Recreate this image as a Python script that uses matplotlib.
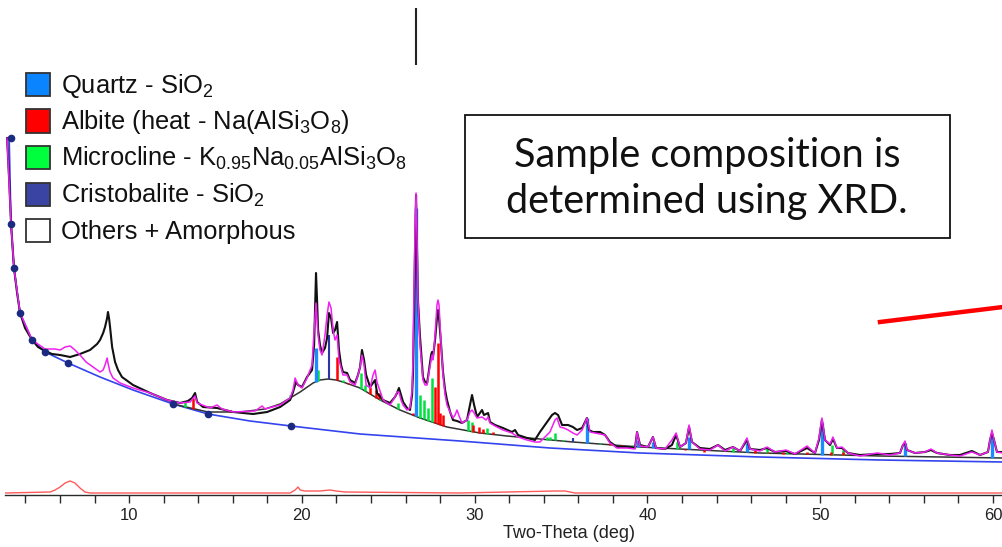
import numpy as np
import matplotlib
matplotlib.use("Agg")
import matplotlib.pyplot as plt
from matplotlib.patches import Rectangle
from matplotlib.lines import Line2D

plt.rcParams["font.family"] = ["Liberation Sans", "DejaVu Sans"]
plt.rcParams["mathtext.fontset"] = "custom"
plt.rcParams["mathtext.rm"] = "Liberation Sans"
plt.rcParams["mathtext.it"] = "Liberation Sans"
plt.rcParams["mathtext.bf"] = "Liberation Sans:bold"
plt.rcParams["mathtext.default"] = "regular"

# ---------------- data ----------------
# observed pattern (black)
obs_2theta = [2.94, 3.06, 3.17, 3.34, 3.52, 3.69, 3.98, 4.39, 4.73, 5.14, 5.54, 6.01, 6.59, 7.16, 7.74,
              8.15, 8.32, 8.50, 8.61, 8.73, 8.78, 8.84, 8.90, 9.02, 9.19, 9.36, 9.59, 10.23, 11.22, 12.20,
              12.95, 13.41, 13.65, 13.82, 13.94, 14.28, 15.09, 16.02, 17.18, 17.99, 18.74, 19.32, 19.49,
              19.66, 19.78, 20.01, 20.30, 20.59, 20.71, 20.82, 20.88, 20.94, 21.05, 21.17, 21.34, 21.46,
              21.57, 21.69, 21.81, 21.92, 22.04, 22.15, 22.27, 22.38, 22.62, 22.79, 23.08, 23.25, 23.37,
              23.48, 23.60, 23.72, 23.95, 24.12, 24.24, 24.35, 24.70, 25.10, 25.39, 25.51, 25.62, 25.74,
              25.86, 26.09, 26.26, 26.38, 26.43, 26.49, 26.55, 26.61, 26.67, 26.72, 26.84, 27.01, 27.13,
              27.25, 27.36, 27.48, 27.53, 27.59, 27.71, 27.82, 27.88, 27.94, 28.06, 28.17, 28.29, 28.40,
              28.58, 28.75, 28.98, 29.27, 29.56, 29.73, 29.85, 29.97, 30.14, 30.31, 30.43, 30.54, 30.78,
              30.89, 31.18, 31.64, 32.16, 32.34, 32.51, 33.03, 33.49, 33.78, 34.19, 34.48, 34.65, 34.83,
              35.06, 35.41, 35.69, 35.93, 36.22, 36.50, 36.62, 36.85, 37.26, 37.55, 37.83, 38.24, 38.82,
              39.28, 39.40, 39.57, 40.03, 40.32, 40.50, 41.02, 41.42, 41.66, 41.89, 42.23, 42.41, 42.58,
              43.04, 43.62, 44.09, 44.49, 44.95, 45.36, 45.76, 45.94, 46.52, 46.92, 47.38, 48.02, 48.54,
              49.24, 49.70, 49.93, 50.10, 50.28, 50.57, 50.74, 50.97, 51.26, 51.61, 52.30, 53.29, 54.04,
              54.62, 54.79, 54.91, 55.02, 55.49, 56.06, 56.41, 56.76, 57.51, 58.09, 58.78, 59.25, 59.71,
              59.83, 59.94, 60.06, 60.23, 60.58]
obs_counts = [357, 315, 271, 227, 202, 182, 167, 155, 148, 144, 141, 140, 138, 141, 145,
              151, 155, 162, 168, 177, 183, 177, 168, 148, 133, 125, 118, 110, 102, 95,
              92, 94, 97, 102, 93, 88, 87, 83, 81, 83, 88, 95, 103,
              113, 110, 108, 118, 125, 150, 222, 195, 165, 150, 142, 147, 157,
              182, 177, 162, 165, 173, 145, 130, 123, 122, 115, 112, 120, 128,
              145, 135, 120, 108, 112, 115, 102, 95, 92, 98, 102, 107, 100,
              93, 87, 85, 100, 120, 175, 245, 300, 245, 195, 158, 118, 113,
              112, 125, 140, 143, 138, 155, 177, 185, 177, 150, 123, 105, 95,
              83, 75, 74, 72, 75, 90, 100, 90, 78, 82, 85, 80, 82,
              73, 70, 67, 63, 65, 60, 57, 55, 63, 73, 80, 82, 80,
              70, 70, 68, 65, 67, 77, 65, 63, 63, 60, 53, 48, 48,
              47, 63, 50, 48, 58, 47, 46, 50, 60, 48, 52, 68, 53,
              47, 46, 50, 45, 48, 44, 55, 46, 45, 47, 43, 44, 41,
              47, 42, 55, 75, 55, 50, 56, 47, 47, 42, 40, 41, 41,
              42, 50, 52, 45, 42, 43, 45, 42, 40, 40, 44, 40, 43,
              55, 62, 55, 43, 43]
# clipped top of the strongest observed reflection
clip_peak_2theta = 26.61
clip_peak_range = (430, 487)

# calculated pattern (magenta)
calc_2theta = [2.94, 3.17, 3.34, 3.69, 4.39, 5.14, 5.72, 6.01, 6.30, 6.59, 6.87, 7.16, 7.51, 7.92, 8.32,
               8.50, 8.61, 8.73, 8.78, 8.90, 9.07, 9.48, 10.23, 11.22, 12.20, 12.95, 13.53, 13.82, 13.94,
               14.69, 15.09, 15.38, 16.02, 17.29, 17.70, 17.87, 18.74, 19.32, 19.49, 19.61, 19.78, 20.01,
               20.30, 20.59, 20.71, 20.82, 20.94, 21.05, 21.17, 21.34, 21.46, 21.57, 21.69, 21.81, 21.92,
               22.04, 22.15, 22.38, 22.62, 22.79, 23.08, 23.25, 23.37, 23.48, 23.60, 23.72, 23.95, 24.12,
               24.24, 24.35, 24.70, 25.10, 25.39, 25.51, 25.62, 25.74, 25.86, 26.09, 26.26, 26.38, 26.43,
               26.49, 26.55, 26.61, 26.67, 26.72, 26.84, 27.01, 27.13, 27.25, 27.36, 27.48, 27.53, 27.59,
               27.71, 27.82, 27.88, 27.94, 28.06, 28.17, 28.29, 28.40, 28.58, 28.75, 28.87, 28.98, 29.10,
               29.27, 29.56, 29.73, 29.85, 29.97, 30.14, 30.43, 30.66, 30.78, 30.89, 31.18, 31.64, 32.16,
               32.51, 33.03, 33.49, 33.78, 34.07, 34.36, 34.65, 34.77, 34.94, 35.17, 35.41, 35.69, 35.93,
               36.22, 36.50, 36.68, 37.26, 37.55, 37.83, 38.24, 38.82, 39.28, 39.40, 39.57, 40.03, 40.32,
               40.50, 41.02, 41.42, 41.66, 41.89, 42.23, 42.41, 42.58, 43.04, 43.62, 44.09, 44.49, 44.95,
               45.36, 45.76, 45.94, 46.52, 46.92, 47.38, 48.02, 48.54, 49.24, 49.70, 49.93, 50.10, 50.28,
               50.57, 50.74, 50.97, 51.26, 51.61, 52.30, 53.29, 54.04, 54.62, 54.79, 54.91, 55.02, 55.49,
               56.06, 56.41, 56.76, 57.51, 58.09, 58.78, 59.25, 59.71, 59.83, 59.94, 60.06, 60.23, 60.58]
calc_counts = [357, 271, 227, 182, 155, 146, 146, 145, 148, 149, 145, 140, 133, 128, 123,
               125, 130, 137, 132, 123, 117, 112, 107, 102, 95, 92, 93, 99, 92,
               87, 90, 86, 83, 84, 89, 86, 90, 97, 105, 117, 110, 107,
               117, 130, 165, 192, 160, 145, 140, 160, 180, 193, 187, 165, 155,
               160, 135, 120, 120, 113, 110, 120, 128, 140, 130, 110, 107, 120,
               125, 113, 95, 90, 98, 103, 103, 95, 90, 85, 87, 105, 135,
               205, 265, 302, 255, 195, 150, 115, 110, 110, 123, 135, 140, 135,
               160, 190, 195, 190, 150, 120, 100, 90, 83, 77, 80, 85, 79,
               72, 75, 83, 85, 82, 77, 78, 75, 78, 72, 69, 65, 62,
               58, 55, 53, 53, 58, 63, 75, 77, 68, 67, 65, 62, 60,
               65, 77, 63, 61, 60, 52, 47, 47, 46, 63, 49, 48, 58,
               47, 46, 55, 62, 48, 52, 70, 53, 46, 45, 50, 44, 48,
               44, 57, 46, 44, 48, 43, 45, 41, 49, 42, 57, 77, 55,
               51, 58, 47, 48, 42, 39, 42, 40, 42, 50, 54, 45, 42,
               43, 46, 42, 40, 39, 43, 40, 43, 55, 65, 55, 43, 42]

# fitted background (blue) and its anchor points
bg_2theta = [3.06, 3.17, 3.34, 3.69, 4.39, 5.14, 6.47, 8.32, 10.23, 12.55, 14.57, 17.00, 19.37,
             23.37, 29.15, 34.36, 39.57, 46.52, 53.46, 60.58]
bg_counts = [357, 271, 227, 182, 155, 143, 132, 118, 105, 91, 81, 74, 69,
             61, 54, 47, 42, 38, 35, 33]
anchor_2theta = [3.17, 3.17, 3.34, 3.69, 4.39, 5.14, 6.47, 12.55, 14.57, 19.37]
anchor_counts = [357, 271, 227, 182, 155, 143, 132, 91, 81, 69]

# background + amorphous hump (grey-black smooth line)
hump_2theta = [12.55, 14.57, 16.42, 17.87, 18.74, 19.32, 19.90, 20.65, 21.05, 21.52, 21.98, 22.38,
               23.37, 24.53, 25.68, 26.84, 28.40, 30.31, 31.87, 35.69, 39.57, 46.52, 53.46, 60.58]
hump_counts = [91, 83, 83, 86, 91, 97, 103, 112, 115, 116, 115, 113,
               107, 95, 85, 77, 68, 62, 59, 53, 48, 42, 39, 37]

# reference stick patterns: position (deg) and top intensity
quartz_pos = [20.82, 26.61, 36.50, 39.46, 40.32, 42.41, 45.76, 50.10, 54.91, 59.94]
quartz_top = [147, 287, 77, 55, 53, 58, 52, 72, 52, 58]
albite_pos = [13.70, 15.84, 22.04, 22.67, 23.95, 24.29, 24.47, 25.39, 26.43, 27.71, 27.88, 28.00,
              28.17, 29.91, 30.25, 30.49, 31.06, 36.62, 37.83, 38.53, 42.18, 43.28, 45.53, 46.23,
              46.98, 47.85, 49.24, 50.62, 51.32]
albite_top = [97, 85, 138, 112, 108, 105, 102, 88, 82, 108, 152, 82,
              80, 70, 68, 66, 63, 52, 52, 50, 45, 43, 43, 45,
              43, 43, 43, 43, 43]
microcline_pos = [13.24, 19.32, 20.94, 22.38, 23.43, 23.66, 24.53, 25.57, 26.61, 26.84, 27.07, 27.30,
                  27.53, 29.62, 29.85, 30.72, 32.45, 34.19, 34.36, 34.65, 35.12, 37.26, 39.17, 41.71,
                  44.95, 46.92, 48.08, 50.68, 51.32]
microcline_top = [93, 100, 125, 115, 122, 110, 102, 92, 102, 100, 95, 87,
                  117, 75, 73, 67, 60, 58, 58, 62, 55, 52, 50, 53,
                  47, 47, 43, 50, 45]
cristobalite_pos = [21.57, 35.69]
cristobalite_top = [160, 57]

# difference curve (red, bottom)
diff_2theta = [2.82, 5.43, 5.72, 6.01, 6.30, 6.59, 6.87, 7.16, 7.45, 7.74, 19.32, 19.61, 19.78, 19.90,
               20.18, 21.05, 21.63, 21.98, 22.50, 29.15, 34.65, 35.23, 35.81, 60.58]
diff_counts = [2, 3, 5, 8, 12, 14, 12, 7, 3, 2, 2, 5, 8, 5,
               4, 4, 5, 4, 3, 2, 4, 4, 2, 2]

legend_labels = ["Quartz - SiO$_2$",
                 "Albite (heat - Na(AlSi$_3$O$_8$)",
                 "Microcline - K$_{0.95}$Na$_{0.05}$AlSi$_3$O$_8$",
                 "Cristobalite - SiO$_2$",
                 "Others + Amorphous"]
legend_colors = ["#0a84ff", "#ff0000", "#00ff3c", "#3a45a3", "#ffffff"]
note_lines = ["Sample composition is", "determined using XRD."]

# ---------------- figure ----------------
W, H = 1003, 547
fig = plt.figure(figsize=(W / 100, H / 100), dpi=100)
ax = fig.add_axes([5 / W, 52 / H, 998 / W, 495 / H])
ax.set_xlim(2.82, 60.58)
ax.set_ylim(0, 495)
for s in ["left", "right", "top"]:
    ax.spines[s].set_visible(False)
ax.spines["bottom"].set_color("#2a2a2a")
ax.spines["bottom"].set_linewidth(1.0)
ax.set_yticks([])
ax.set_xticks(np.arange(10, 61, 10))
ax.set_xticks(np.arange(4, 61, 2), minor=True)
ax.tick_params(axis="x", which="both", direction="out", length=6, width=1.0,
               color="#2a2a2a", pad=3)
ax.tick_params(axis="x", which="major", labelsize=12, labelcolor="#222222")
ax.set_xlabel("Two-Theta (deg)", fontsize=13, color="#222222")
ax.xaxis.set_label_coords((569 - 5) / 998, -0.060)
ax.xaxis.label.set_va("top")

# background and hump
ax.plot(bg_2theta, bg_counts, color="#3344ee", lw=1.2, zorder=2)
ax.plot(hump_2theta, hump_counts, color="#333333", lw=1.1, zorder=3)

# sticks sitting on the hump
def sticks(pos, top, color, lw):
    base = np.interp(pos, hump_2theta, hump_counts)
    ax.vlines(pos, base, top, colors=color, lw=lw, zorder=4)

sticks(microcline_pos, microcline_top, "#00e040", 1.8)
sticks(albite_pos, albite_top, "#ff0000", 1.8)
sticks(cristobalite_pos, cristobalite_top, "#2a35a8", 1.5)
sticks(quartz_pos, quartz_top, "#1a8cff", 2.4)

ax.plot(obs_2theta, obs_counts, color="#111111", lw=1.5, zorder=5)
ax.vlines([clip_peak_2theta], clip_peak_range[0], clip_peak_range[1], colors="#222222", lw=1.5, zorder=5)
ax.plot(calc_2theta, calc_counts, color="#f020f0", lw=1.1, zorder=6)
ax.plot(anchor_2theta, anchor_counts, "o", color="#1a2a80", ms=4.5, zorder=7, clip_on=False)
ax.plot(diff_2theta, diff_counts, color="#ff5a5a", lw=1.0, zorder=5)

# ---------------- legend (manual, pixel layout) ----------------
def fx(px):
    return px / W

def fy(py):
    return 1 - py / H

for i, (lab, col) in enumerate(zip(legend_labels, legend_colors)):
    top = 73 + 36.5 * i
    fig.patches.append(Rectangle((fx(26), fy(top + 23)), 24 / W, 23 / H, transform=fig.transFigure,
                                 facecolor=col, edgecolor="#333333", lw=1.3))
    fig.text(fx(61), fy(top + 20), lab, fontsize=18.4, family="Liberation Sans",
             color="#111111", va="baseline", ha="left")

# ---------------- note box ----------------
fig.patches.append(Rectangle((fx(465), fy(238)), 485 / W, 123 / H, transform=fig.transFigure,
                             facecolor="white", edgecolor="#111111", lw=1.3, zorder=10))
fig.text(fx(707), fy(155), note_lines[0], fontsize=28.5, family="Lato", ha="center", va="center",
         color="#111111", zorder=11)
fig.text(fx(707), fy(202), note_lines[1], fontsize=28.5, family="Lato", ha="center", va="center",
         color="#111111", zorder=11)

# red pointer line
fig.add_artist(Line2D([fx(880), fx(1003)], [fy(322), fy(307)], color="#ff0000", lw=3.2))

fig.savefig("out.png", dpi=100)
